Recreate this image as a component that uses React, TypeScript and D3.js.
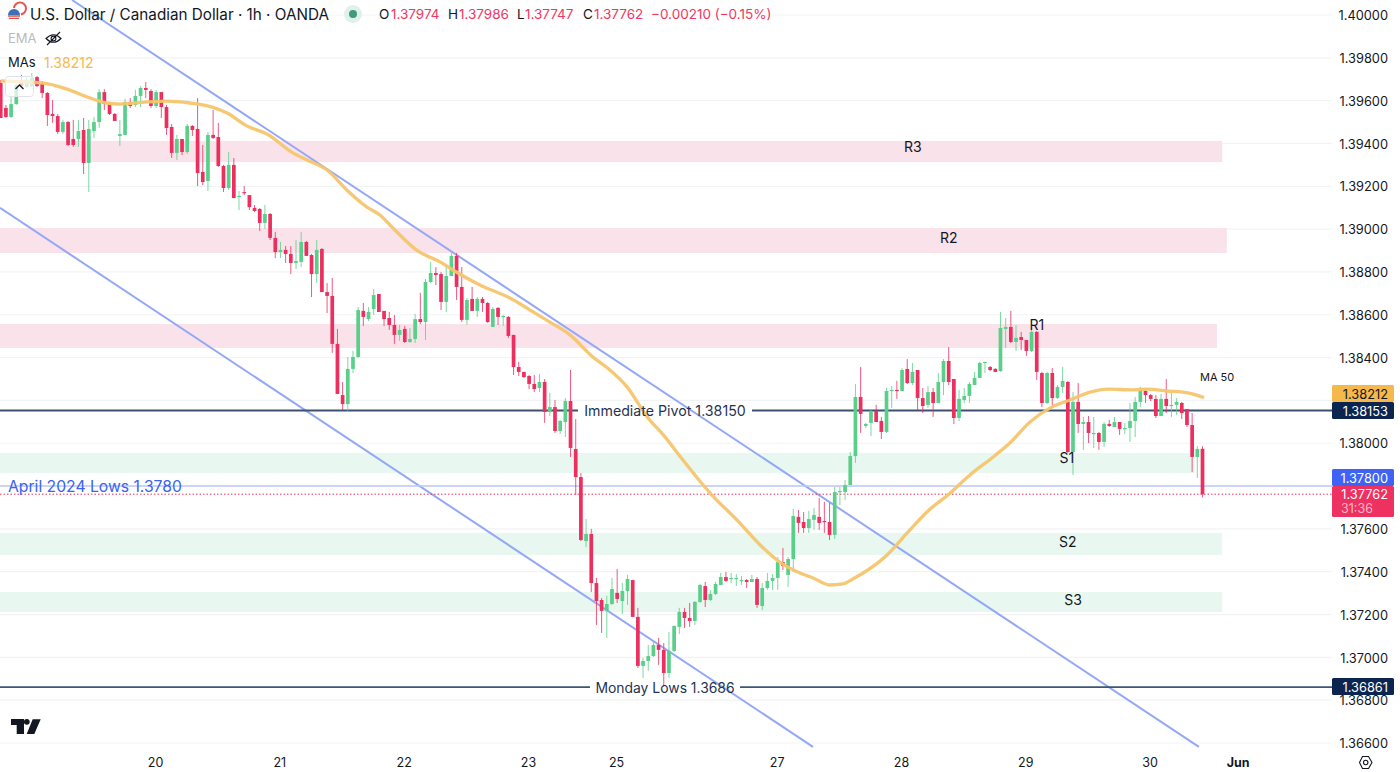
import React from "react";
import * as d3 from "d3";

// USD/CAD 1h candles, prices x 100000
const opens = [139682,139566,139524,139584,139696,139664,139668,139710,139678,139636,139538,139528,139454,139500,139421,139421,139463,139309,139458,139500,139640,139584,139538,139435,139440,139594,139580,139622,139659,139645,139575,139640,139570,139477,139356,139421,139360,139482,139468,139267,139225,139440,139430,139295,139192,139300,139150,139173,139159,139099,139094,139029,139071,138959,138893,138903,138884,138842,138847,138940,138879,138790,138907,138706,138688,138464,138225,138183,138347,138403,138618,138580,138627,138697,138618,138585,138552,138506,138534,138473,138487,138580,138566,138753,138795,138790,138660,138781,138875,138730,138576,138674,138618,138674,138655,138543,138632,138590,138590,138506,138356,138333,138314,138277,138258,138286,138146,138169,138057,138099,138197,137973,137842,137543,137576,137347,137268,137217,137249,137301,137263,137310,137361,137189,136960,136983,137006,137058,137035,136927,137030,137142,137212,137184,137170,137259,137333,137268,137296,137338,137375,137366,137366,137361,137361,137352,137366,137240,137324,137357,137371,137445,137385,137459,137656,137632,137604,137642,137656,137637,137632,137572,137772,137772,137805,137940,138216,138081,138095,138151,138104,138053,138244,138249,138244,138347,138281,138342,138211,138179,138239,138188,138286,138384,138300,138118,138202,138221,138272,138305,138375,138356,138347,138337,138534,138543,138473,138496,138482,138431,138520,138328,138188,138328,138211,138263,138286,137959,138193,138090,138099,138048,138048,138006,138090,138076,138099,138067,138071,138104,138193,138244,138225,138207,138127,138207,138174,138179,138188,138160,138085,137936,137974];
const highs = [139696,139580,139617,139696,139720,139710,139729,139715,139692,139640,139603,139538,139510,139505,139510,139510,139519,139510,139524,139654,139654,139594,139542,139510,139608,139612,139650,139668,139687,139654,139650,139640,139580,139491,139440,139421,139491,139486,139612,139393,139454,139556,139496,139300,139360,139332,139178,139201,139159,139113,139099,139113,139075,138987,138940,138921,138921,138949,138987,138945,138884,138949,138912,138748,138772,138534,138286,138403,138431,138636,138655,138636,138720,138697,138618,138613,138599,138552,138548,138538,138604,138702,138767,138847,138823,138800,138832,138889,138889,138823,138678,138730,138683,138683,138660,138636,138636,138599,138594,138506,138380,138333,138319,138319,138323,138300,138235,138202,138109,138211,138342,138113,137861,137646,137600,137371,137277,137287,137371,137413,137347,137385,137361,137231,136997,137058,137072,137091,137067,137119,137147,137231,137231,137254,137263,137343,137352,137315,137352,137394,137399,137394,137389,137380,137366,137385,137375,137347,137394,137389,137469,137511,137469,137693,137688,137679,137684,137698,137744,137726,137721,137796,137796,137829,137959,138277,138356,138095,138155,138179,138123,138258,138267,138291,138351,138393,138375,138342,138258,138267,138258,138328,138393,138449,138300,138249,138258,138286,138333,138380,138380,138361,138351,138613,138585,138618,138552,138520,138482,138538,138524,138333,138333,138351,138272,138356,138291,138239,138281,138123,138127,138123,138053,138099,138109,138123,138099,138095,138188,138216,138263,138258,138230,138225,138230,138300,138239,138211,138193,138160,138141,137987,137986];
const lows = [139519,139519,139519,139580,139664,139659,139664,139664,139612,139482,139496,139444,139444,139388,139384,139384,139257,139173,139426,139472,139556,139533,139505,139388,139440,139566,139570,139570,139612,139566,139566,139519,139440,139332,139323,139346,139351,139435,139201,139206,139178,139421,139290,139173,139183,139145,139089,139159,139089,139080,138991,139001,138949,138865,138865,138842,138790,138814,138823,138875,138683,138748,138706,138608,138422,138230,138155,138146,138328,138398,138548,138571,138599,138613,138548,138529,138464,138478,138468,138468,138468,138557,138482,138748,138739,138622,138613,138781,138669,138566,138552,138618,138590,138613,138562,138543,138552,138548,138492,138319,138314,138305,138253,138239,138239,138095,138127,138048,138043,138029,137936,137758,137543,137515,137305,137151,137114,137091,137245,137254,137203,137245,137189,136950,136904,136937,137002,136965,136862,136904,137025,137109,137137,137142,137151,137254,137235,137263,137291,137338,137352,137347,137333,137338,137324,137352,137231,137221,137315,137315,137315,137408,137329,137399,137581,137581,137581,137595,137595,137581,137548,137553,137712,137735,137805,137908,138048,138071,138034,138099,138020,138048,138165,138207,138244,138277,138272,138155,138141,138165,138123,138188,138225,138272,138090,138104,138188,138188,138272,138305,138328,138337,138333,138333,138445,138468,138431,138435,138408,138426,138295,138169,138183,138169,138207,138235,137954,137852,138048,137969,138001,137978,137969,137983,138076,138076,138039,138043,138006,138029,138169,138188,138197,138118,138127,138141,138123,138132,138113,138076,137866,137838,137747];
const closes = [139519,139524,139584,139673,139668,139696,139706,139668,139636,139533,139528,139454,139500,139393,139393,139458,139309,139468,139500,139640,139584,139538,139505,139444,139594,139575,139622,139659,139650,139575,139640,139570,139472,139356,139421,139360,139482,139463,139262,139220,139440,139426,139295,139192,139300,139145,139155,139169,139103,139085,139029,139071,138959,138893,138903,138884,138842,138851,138940,138875,138790,138903,138706,138688,138464,138230,138183,138347,138403,138622,138590,138613,138692,138613,138580,138552,138506,138529,138473,138487,138580,138566,138753,138795,138786,138660,138781,138875,138730,138576,138669,138618,138674,138655,138566,138627,138590,138594,138501,138356,138333,138309,138277,138253,138286,138146,138169,138057,138104,138197,137978,137842,137548,137576,137347,137263,137217,137249,137319,137273,137310,137366,137189,136960,136983,137006,137058,137035,136927,137030,137147,137212,137184,137170,137259,137338,137268,137296,137343,137375,137357,137371,137371,137361,137352,137366,137245,137324,137357,137371,137445,137427,137459,137660,137628,137604,137646,137665,137628,137632,137572,137772,137777,137805,137940,138216,138137,138090,138151,138099,138053,138244,138249,138244,138342,138281,138333,138211,138174,138239,138188,138286,138384,138286,138118,138207,138221,138277,138305,138375,138380,138342,138333,138538,138543,138473,138492,138482,138431,138520,138333,138188,138328,138211,138263,138291,137959,138193,138090,138099,138048,138048,138006,138090,138081,138099,138067,138071,138104,138193,138249,138225,138207,138127,138207,138174,138179,138193,138141,138085,137936,137973,137762];

// MA 50, sampled by bar position
const maBars = [0,8.2,12.8,16.7,20.5,23,28.2,32.1,36.5,40.8,43.7,47.5,51.4,56.4,59.1,63,66.8,70.7,73.2,75.7,80.5,84.8,87.3,92.5,98.3,102.2,106,109.9,114.3,117.6,120.9,124.8,127.9,131.7,135.6,137.3,142.1,146.6,150.4,154.3,156.8,160.1,162.6,164.5,171.1,175,178.8,183.3,187.1,191.6,194.8,198.7,202.6,206.4,210.3,213.7,218.6,221.3,225.1,228.2,230.9,232.3];
const maPrices = [139692,139682,139654,139617,139589,139584,139594,139598,139589,139570,139542,139482,139444,139356,139323,139276,139183,139103,139066,139005,138898,138847,138809,138739,138678,138622,138566,138506,138403,138342,138263,138123,138039,137922,137805,137758,137642,137525,137445,137394,137371,137338,137343,137366,137478,137581,137679,137768,137852,137936,138001,138099,138165,138202,138239,138253,138249,138253,138244,138239,138225,138212];

const priceTicks = [1.40,1.398,1.396,1.394,1.392,1.39,1.388,1.386,1.384,1.382,1.38,1.378,1.376,1.374,1.372,1.37,1.368,1.366];
const tickHidden = [1.378, 1.382];
const dateBars = [30,54,78,102,119,150,174,198,222,239];
const dateLabels = ["20","21","22","23","25","27","28","29","30","Jun"];

const zoneNames = ["R3","R2","R1","S1","S2","S3"];
const zoneTops = [1.39412,1.39005,1.38557,1.37954,1.37581,1.37305];
const zoneBottoms = [1.39313,1.38888,1.38445,1.37861,1.37478,1.37212];
const zoneEndBars = [235.8,236.7,234.8,230.5,235.8,235.8];
const zoneFills = ["#fae2ea","#fae2ea","#fae2ea","#e8f7ef","#e8f7ef","#e8f7ef"];
const zoneLabelBars = [176.1,183,200,205.8,206,207];
const zoneLabelPrices = [1.39386,1.38962,1.38556,1.37934,1.37539,1.37269];

const channelTop = [[13.76,1.4007],[231.3,1.36582]];
const channelBottom = [[-0.14,1.39099],[156.8,1.36582]];

const pivotPrice = 1.38153;
const mondayPrice = 1.36861;
const aprilPrice = 1.378;
const lastPrice = 1.37762;
const maLast = 1.38212;

const FONT = "Inter, 'Noto Sans', sans-serif";
const RED = "#ec2f5f";
const GREEN = "#59cf8a";
const W = 1400, H = 772, PLOT_R = 1332;

const x = d3.scaleLinear().domain([0, 232]).range([0.74, 1202.5]);
const y = d3.scaleLinear().domain([1.366, 1.4]).range([743, 15]);
const p = (v: number) => v / 100000;

export default function App() {
  const ma = d3.line<number>()
    .x((_, i) => x(maBars[i]))
    .y((d) => y(p(d)))
    .curve(d3.curveMonotoneX)(maPrices) as string;
  const seg = d3.line<number[]>().x((d) => x(d[0])).y((d) => y(d[1]));
  const bw = 3.7;
  const tag = (top: number, h: number, fill: string) => (
    <rect x={1332} y={top} width={62} height={h} rx={1.5} fill={fill} />
  );
  const ax = { fontFamily: FONT, fontSize: 12.8, fill: "#131722" } as const;
  return (
    <svg width={W} height={H} viewBox={`0 0 ${W} ${H}`} style={{ position: "fixed", left: 0, top: 0, background: "#fff" }}>
      {priceTicks.map((t) => (
        <line key={t} x1={0} x2={PLOT_R} y1={y(t)} y2={y(t)} stroke="#f2f3f5" strokeWidth={1.2} />
      ))}
      {zoneNames.map((n, i) => (
        <rect key={n} x={0} width={x(zoneEndBars[i])} y={y(zoneTops[i])} height={y(zoneBottoms[i]) - y(zoneTops[i])} fill={zoneFills[i]} />
      ))}
      <path d={seg(channelTop) as string} stroke="#93a8f6" strokeWidth={2} fill="none" />
      <path d={seg(channelBottom) as string} stroke="#93a8f6" strokeWidth={2} fill="none" />

      <line x1={0} x2={PLOT_R} y1={y(aprilPrice)} y2={y(aprilPrice)} stroke="#bcc9f6" strokeWidth={1.5} />
      <line x1={0} x2={PLOT_R} y1={y(lastPrice)} y2={y(lastPrice)} stroke={RED} strokeWidth={1} strokeDasharray="1.5 2" />
      <line x1={0} x2={578} y1={y(pivotPrice)} y2={y(pivotPrice)} stroke="#3c5070" strokeWidth={1.8} />
      <line x1={752} x2={PLOT_R} y1={y(pivotPrice)} y2={y(pivotPrice)} stroke="#3c5070" strokeWidth={1.8} />
      <line x1={0} x2={590} y1={y(mondayPrice)} y2={y(mondayPrice)} stroke="#3c5678" strokeWidth={1.8} />
      <line x1={740} x2={PLOT_R} y1={y(mondayPrice)} y2={y(mondayPrice)} stroke="#3c5678" strokeWidth={1.8} />

      {opens.map((o, i) => {
        const c = closes[i];
        const col = c >= o ? GREEN : RED;
        const top = y(p(Math.max(o, c)));
        const bot = y(p(Math.min(o, c)));
        return (
          <g key={i}>
            <line x1={x(i)} x2={x(i)} y1={y(p(highs[i]))} y2={y(p(lows[i]))} stroke={col} strokeWidth={1} strokeOpacity={0.8} />
            <rect x={x(i) - bw / 2} width={bw} y={top} height={Math.max(bot - top, 1.2)} fill={col} />
          </g>
        );
      })}
      <path d={ma} stroke="#f5c56c" strokeWidth={3.3} fill="none" strokeOpacity={0.95} strokeLinejoin="round" />

      {zoneNames.map((n, i) => (
        <text key={n} x={x(zoneLabelBars[i])} y={y(zoneLabelPrices[i])} textAnchor="middle" dominantBaseline="central" fontFamily={FONT} fontSize={14} fill="#131722">{n}</text>
      ))}
      <text x={1200} y={377} dominantBaseline="central" fontFamily={FONT} fontSize={11} fill="#131722">MA 50</text>
      <text x={665} y={y(pivotPrice) + 0.5} textAnchor="middle" dominantBaseline="central" fontFamily={FONT} fontSize={14.2} fill="#1f3352">Immediate Pivot 1.38150</text>
      <text x={665} y={y(mondayPrice) + 0.5} textAnchor="middle" dominantBaseline="central" fontFamily={FONT} fontSize={13.9} fill="#1f3352">Monday Lows 1.3686</text>
      <text x={8} y={y(aprilPrice) + 0.5} dominantBaseline="central" fontFamily={FONT} fontSize={15.7} fill="#3a62f0">April 2024 Lows 1.3780</text>

      {/* header */}
      <g>
        <circle cx={20} cy={8.5} r={6} fill="#fff" stroke="#e8564a" strokeWidth={2} />
        <circle cx={14} cy={15} r={7} fill="#fff" />
        <path d="M8 15 a6 6 0 0 1 12 0 z" fill="#3f6fb5" />
        <path d="M8 16 h12 M8.8 18.4 h10.4" stroke="#e0504a" strokeWidth={1.4} />
      </g>
      <text x={30} y={14} dominantBaseline="central" fontFamily={FONT} fontSize={15.25} fill="#131722">U.S. Dollar / Canadian Dollar · 1h · OANDA</text>
      <circle cx={353} cy={14} r={9} fill="#e1f0ea" />
      <circle cx={353} cy={14} r={4} fill="#3f9a7f" />
      {[["O", 379, "1.37974", 391], ["H", 448, "1.37986", 459], ["L", 517, "1.37747", 525], ["C", 583, "1.37762", 594]].map((r) => (
        <g key={r[0] as string} fontFamily={FONT} fontSize={13.5}>
          <text x={r[1] as number} y={14} dominantBaseline="central" fill="#131722">{r[0]}</text>
          <text x={r[3] as number} y={14} dominantBaseline="central" fill="#f0375f">{r[2]}</text>
        </g>
      ))}
      <text x={651} y={14} dominantBaseline="central" fontFamily={FONT} fontSize={13.5} fill="#f0375f">−0.00210 (−0.15%)</text>
      <text x={8} y={38} dominantBaseline="central" fontFamily={FONT} fontSize={13} fill="#b8bbc3">EMA</text>
      <g fill="none" stroke="#131722" strokeWidth={1.1}>
        <path d="M46 38.5 q7.5 -7.5 15 0 q-7.5 7.5 -15 0 z" />
        <circle cx={53.5} cy={38.5} r={2.4} />
        <path d="M47 45 L60 32" />
      </g>
      <text x={8} y={62} dominantBaseline="central" fontFamily={FONT} fontSize={13} fill="#131722">MAs</text>
      <text x={44} y={62} dominantBaseline="central" fontFamily={FONT} fontSize={14} fill="#f5b84a">1.38212</text>
      <rect x={5.5} y={76.5} width={28} height={20} rx={3} fill="#fff" fillOpacity={0.72} stroke="#e0e3eb" />
      <path d="M15.5 89 L19.5 85 L23.5 89" fill="none" stroke="#131722" strokeWidth={1.3} />

      {/* price axis */}
      <rect x={PLOT_R} y={0} width={W - PLOT_R} height={H} fill="#fff" />
      {priceTicks.filter((t) => !tickHidden.includes(t)).map((t) => (
        <text key={t} x={1388} y={y(t) + 0.7} textAnchor="end" dominantBaseline="central" {...ax}>{t.toFixed(5)}</text>
      ))}
      {tag(385, 17, "#f5b84a")}
      <text x={1388} y={394} textAnchor="end" dominantBaseline="central" {...ax}>{maLast.toFixed(5)}</text>
      {tag(402, 17, "#0b2450")}
      <text x={1388} y={411} textAnchor="end" dominantBaseline="central" {...ax} fill="#fff">{pivotPrice.toFixed(5)}</text>
      {tag(469, 17, "#3e63f4")}
      <text x={1388} y={478} textAnchor="end" dominantBaseline="central" {...ax} fill="#fff">{aprilPrice.toFixed(5)}</text>
      {tag(486, 31, "#ed3160")}
      <text x={1388} y={494.5} textAnchor="end" dominantBaseline="central" {...ax} fill="#fff">{lastPrice.toFixed(5)}</text>
      <text x={1341} y={508} dominantBaseline="central" {...ax} fontSize={12.5} fill="#f9b6c8">31:36</text>
      {tag(678, 17, "#0b2450")}
      <text x={1388} y={687} textAnchor="end" dominantBaseline="central" {...ax} fill="#fff">{mondayPrice.toFixed(5)}</text>

      {/* time axis */}
      {dateBars.map((b, i) => (
        <text key={b} x={x(b) - 0.6} y={762} textAnchor="middle" dominantBaseline="central" fontFamily={FONT} fontSize={12.5}
          fontWeight={dateLabels[i] === "Jun" ? 700 : 400} fill="#131722">{dateLabels[i]}</text>
      ))}
      <path d="M1359.5 762.5 L1362.5 756.5 L1368.5 756.5 L1372 762.5 L1368.5 768.5 L1362.5 768.5 Z" fill="none" stroke="#131722" strokeWidth={1.1} />
      <circle cx={1365.7} cy={762.5} r={2.2} fill="none" stroke="#131722" strokeWidth={1.1} />
      <g fill="#131722">
        <path d="M11 719 H24 V734 H16.7 V725 H11 Z" />
        <circle cx={26.8} cy={721.8} r={2.9} />
        <path d="M32.7 719.3 H40.7 L34.3 734 H26.7 Z" />
      </g>
    </svg>
  );
}
